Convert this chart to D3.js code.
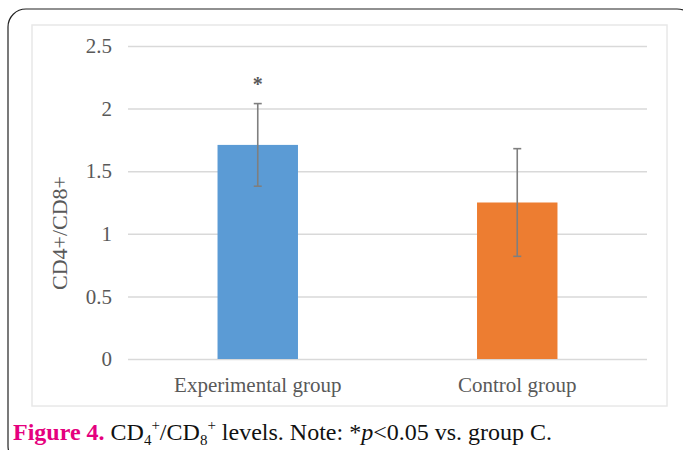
<!DOCTYPE html>
<html>
<head>
<meta charset="utf-8">
<script src="https://cdn.jsdelivr.net/npm/d3@7"></script>
<style>
  body { margin: 0; background: #fff; }
  svg { display: block; }
</style>
</head>
<body>
<svg id="chart"></svg>
<script>
const groups = ["Experimental group", "Control group"]
const means = [1.71, 1.25]
const errors = [0.33, 0.43]
const marks = ["*", ""]
const yTicks = [0, 0.5, 1, 1.5, 2, 2.5]
const barColors = ["#5b9bd5", "#ed7d31"]

const width = 683
const height = 450
const plot = { left: 128, right: 647, top: 46, bottom: 359 }

const svg = d3.select("#chart").attr("width", width).attr("height", height)

// outer rounded frame, mostly cut by the page edge
svg.append("rect")
    .attr("x", 8).attr("y", 9)
    .attr("width", 687).attr("height", 455)
    .attr("rx", 18)
    .attr("fill", "none")
    .attr("stroke", "#222")
    .attr("stroke-width", 1.2)

// chart area box
svg.append("rect")
    .attr("x", 32).attr("y", 25)
    .attr("width", 635).attr("height", 381)
    .attr("fill", "#fff")
    .attr("stroke", "#e8e8e8")
    .attr("stroke-width", 1.5)

const x = d3.scaleBand()
    .domain(groups)
    .range([plot.left, plot.right])
    .paddingInner(0.69)
    .paddingOuter(0.345)

const y = d3.scaleLinear().domain([0, 2.5]).range([plot.bottom, plot.top])

const yAxis = svg.append("g")
    .attr("transform", `translate(${plot.left},0)`)
    .call(d3.axisLeft(y).tickValues(yTicks).tickSize(-(plot.right - plot.left)).tickPadding(16).tickFormat(d3.format("")))
yAxis.select(".domain").remove()
yAxis.selectAll(".tick line").attr("stroke", "#d9d9d9").attr("stroke-width", 1.5)
yAxis.selectAll(".tick text")
    .attr("fill", "#595959")
    .attr("font-family", "Liberation Serif")
    .attr("font-size", 21)

svg.append("g").selectAll("rect")
    .data(groups)
    .join("rect")
    .attr("x", (d) => x(d))
    .attr("y", (d, i) => y(means[i]))
    .attr("width", x.bandwidth())
    .attr("height", (d, i) => y(0) - y(means[i]))
    .attr("fill", (d, i) => barColors[i])

// error bars
const err = svg.append("g").attr("stroke", "#7f7f7f").attr("stroke-width", 1.6)
groups.forEach((g, i) => {
    const cx = x(g) + x.bandwidth() / 2
    const hi = y(means[i] + errors[i])
    const lo = y(means[i] - errors[i])
    err.append("line").attr("x1", cx).attr("x2", cx).attr("y1", hi).attr("y2", lo)
    err.append("line").attr("x1", cx - 4).attr("x2", cx + 4).attr("y1", hi).attr("y2", hi)
    err.append("line").attr("x1", cx - 4).attr("x2", cx + 4).attr("y1", lo).attr("y2", lo)
})

svg.append("g").selectAll("text")
    .data(groups)
    .join("text")
    .attr("x", (d) => x(d) + x.bandwidth() / 2)
    .attr("y", (d, i) => y(means[i] + errors[i]) - 13)
    .attr("text-anchor", "middle")
    .attr("fill", "#595959")
    .attr("font-family", "Liberation Serif")
    .attr("font-weight", "bold")
    .attr("font-size", 20)
    .text((d, i) => marks[i])

svg.append("g").selectAll("text")
    .data(groups)
    .join("text")
    .attr("x", (d) => x(d) + x.bandwidth() / 2)
    .attr("y", 392)
    .attr("text-anchor", "middle")
    .attr("fill", "#595959")
    .attr("font-family", "Liberation Serif")
    .attr("font-size", 21)
    .text((d) => d)

svg.append("text")
    .attr("transform", "translate(67,233) rotate(-90)")
    .attr("text-anchor", "middle")
    .attr("fill", "#595959")
    .attr("font-family", "Liberation Serif")
    .attr("font-size", 22)
    .text("CD4+/CD8+")

// caption
const cap = svg.append("text")
    .attr("x", 13).attr("y", 440)
    .attr("font-family", "Liberation Serif")
    .attr("font-size", 24)
    .attr("fill", "#111")
cap.append("tspan").attr("font-weight", "bold").attr("fill", "#e5007e").text("Figure 4.")
cap.append("tspan").text(" CD")
cap.append("tspan").attr("font-size", 15).attr("dy", 5).text("4")
cap.append("tspan").attr("font-size", 15).attr("dy", -15).text("+")
cap.append("tspan").attr("dy", 10).text("/CD")
cap.append("tspan").attr("font-size", 15).attr("dy", 5).text("8")
cap.append("tspan").attr("font-size", 15).attr("dy", -15).text("+")
cap.append("tspan").attr("dy", 10).text(" levels. Note: *")
cap.append("tspan").attr("font-style", "italic").text("p")
cap.append("tspan").text("<0.05 vs. group C.")
</script>
</body>
</html>
